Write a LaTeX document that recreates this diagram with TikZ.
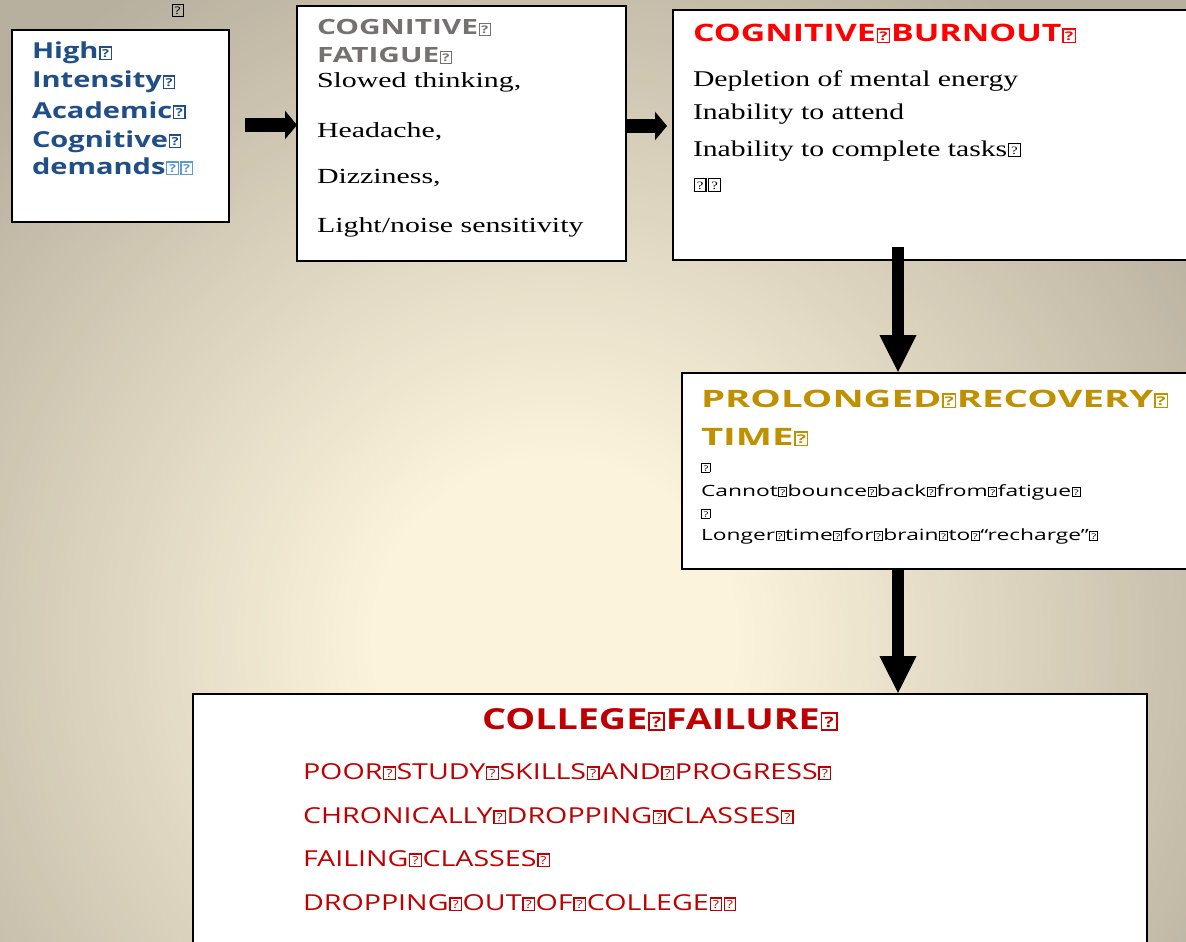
\documentclass[tikz,border=0pt]{standalone}
\usepackage{fontspec}
\usepackage{graphicx}
\usetikzlibrary{arrows.meta}
\setmainfont{Liberation Serif}
% widened faces, one per block
\newfontfamily\sansA{Open Sans}[FakeStretch=1.32]
\newfontfamily\sansB{Open Sans}[FakeStretch=1.42]
\newfontfamily\sansC{Open Sans}[FakeStretch=1.41]
\newfontfamily\sansD{Open Sans}[FakeStretch=1.6]
\newfontfamily\sansDb{Open Sans}[FakeStretch=1.47]
\newfontfamily\sansE{Open Sans}[FakeStretch=1.3]
\newfontfamily\serifB{Liberation Serif}[FakeStretch=1.39]
\newfontfamily\serifC{Liberation Serif}[FakeStretch=1.32]

\definecolor{bgin}{RGB}{251,243,219}
\definecolor{bgout}{RGB}{184,176,158}
\definecolor{hiblue}{RGB}{32,78,135}
\definecolor{paleblue}{RGB}{91,155,213}
\definecolor{fatgray}{RGB}{118,113,113}
\definecolor{burnred}{RGB}{255,0,0}
\definecolor{recgold}{RGB}{191,144,0}
\definecolor{failred}{RGB}{192,0,0}

% placeholder glyph: a small framed question mark
\newcommand\qb{\kern0.03em{\fboxsep=0pt\fboxrule=0.06em\fbox{\makebox[0.46em]{\rule{0pt}{0.52em}\raisebox{0.06em}{\scalebox{0.5}{?}}}}}\kern0.03em}

\tikzset{
  panel/.style={draw=black, line width=2pt, fill=white, anchor=north west, inner sep=0pt, outer sep=0pt},
  line/.style={anchor=base west, inner sep=0pt, outer sep=0pt},
  blockH/.style={line width=14pt, -{Triangle[length=12pt,width=28pt]}},
  blockV/.style={line width=12pt, -{Triangle[length=38pt,width=34pt]}},
  fA/.style={font=\sansA\bfseries\fontsize{22}{26}\selectfont, text=hiblue},
  fBt/.style={font=\sansB\bfseries\fontsize{21}{25}\selectfont, text=fatgray},
  fBb/.style={font=\serifB\fontsize{21.5}{25}\selectfont},
  fCt/.style={font=\sansC\bfseries\fontsize{24}{28}\selectfont, text=burnred},
  fCb/.style={font=\serifC\fontsize{22.5}{26}\selectfont},
  fDt/.style={font=\sansD\bfseries\fontsize{24}{28}\selectfont, text=recgold},
  fDb/.style={font=\sansDb\fontsize{15.5}{19}\selectfont},
  fEt/.style={font=\sansE\bfseries\fontsize{29}{33}\selectfont, text=failred},
  fEb/.style={font=\sansE\fontsize{22}{26}\selectfont, text=failred},
}

\begin{document}
\begin{tikzpicture}[x=1pt,y=-1pt]
\useasboundingbox (0,0) rectangle (1186,942);
\clip (0,0) rectangle (1186,942);

% slide background: cream glow fading to grey-beige
\coordinate (glow) at (555,640);
\fill[bgout] (0,0) rectangle (1186,942);
\foreach \i in {80,79,...,0} {
  \pgfmathsetmacro\rad{185+\i*7.4}
  \pgfmathsetmacro\pct{\i*1.25}
  \fill[bgout!\pct!bgin] (glow) circle (\rad);
}

% boxes
\node[panel, minimum width=217pt, minimum height=192pt] (boxA) at (12,30) {};
\node[panel, minimum width=329pt, minimum height=255pt] (boxB) at (297,6) {};
\node[panel, minimum width=600pt, minimum height=250pt] (boxC) at (673,10) {};
\node[panel, minimum width=600pt, minimum height=196pt] (boxD) at (682,373) {};
\node[panel, minimum width=954pt, minimum height=300pt] (boxE) at (193,694) {};

% stray mark above the first box
\node[line, font=\sansA\fontsize{21}{24}\selectfont] (mark) at (171,16) {\qb};

% high intensity demands
\node[line, fA] (a1) at (32,59) {High\qb};
\node[line, fA] (a2) at (32,88) {Intensity\qb};
\node[line, fA] (a3) at (32,118) {Academic\qb};
\node[line, fA] (a4) at (32,147) {Cognitive\qb};
\node[line, fA] (a5) at (32,174) {demands{\color{paleblue}\qb\qb}};

% cognitive fatigue
\node[line, fBt] (b1) at (317,35) {COGNITIVE\qb};
\node[line, fBt] (b2) at (317,63) {FATIGUE\qb};
\node[line, fBb] (b3) at (317,88) {Slowed thinking,};
\node[line, fBb] (b4) at (317,137) {Headache,};
\node[line, fBb] (b5) at (317,183) {Dizziness,};
\node[line, fBb] (b6) at (317,232) {Light/noise sensitivity};

% cognitive burnout
\node[line, fCt] (c1) at (693,42) {COGNITIVE\qb BURNOUT\qb};
\node[line, fCb] (c2) at (693,86) {Depletion of mental energy};
\node[line, fCb] (c3) at (693,119) {Inability to attend};
\node[line, fCb] (c4) at (693,156) {Inability to complete tasks\qb};
\node[line, fCb] (c5) at (693,191) {\qb\qb};

% prolonged recovery time
\node[line, fDt] (d1) at (701,407) {PROLONGED\qb RECOVERY\qb};
\node[line, fDt] (d2) at (701,445) {TIME\qb};
\node[line, fDb] (d3) at (701,472) {\qb};
\node[line, fDb] (d4) at (701,496) {Cannot\qb bounce\qb back\qb from\qb fatigue\qb};
\node[line, fDb] (d5) at (701,518) {\qb};
\node[line, fDb] (d6) at (701,540) {Longer\qb time\qb for\qb brain\qb to\qb“recharge”\qb};

% college failure
\node[line, fEt] (e1) at (482,729) {COLLEGE\qb FAILURE\qb};
\node[line, fEb] (e2) at (303,779) {POOR\qb STUDY\qb SKILLS\qb AND\qb PROGRESS\qb};
\node[line, fEb] (e3) at (303,823) {CHRONICALLY\qb DROPPING\qb CLASSES\qb};
\node[line, fEb] (e4) at (303,866) {FAILING\qb CLASSES\qb};
\node[line, fEb] (e5) at (303,910) {DROPPING\qb OUT\qb OF\qb COLLEGE\qb\qb};

% block arrows
\coordinate (s1) at (245,125);
\coordinate (s2) at (626,126);
\coordinate (s3) at (898,247);
\draw[blockH] (s1) -- (s1 -| boxB.west);
\draw[blockH] (s2) -- (667,126);
\draw[blockV] (s3) -- (s3 |- boxD.north);
\draw[blockV] (s3 |- boxD.south) -- (s3 |- boxE.north);
\end{tikzpicture}
\end{document}
